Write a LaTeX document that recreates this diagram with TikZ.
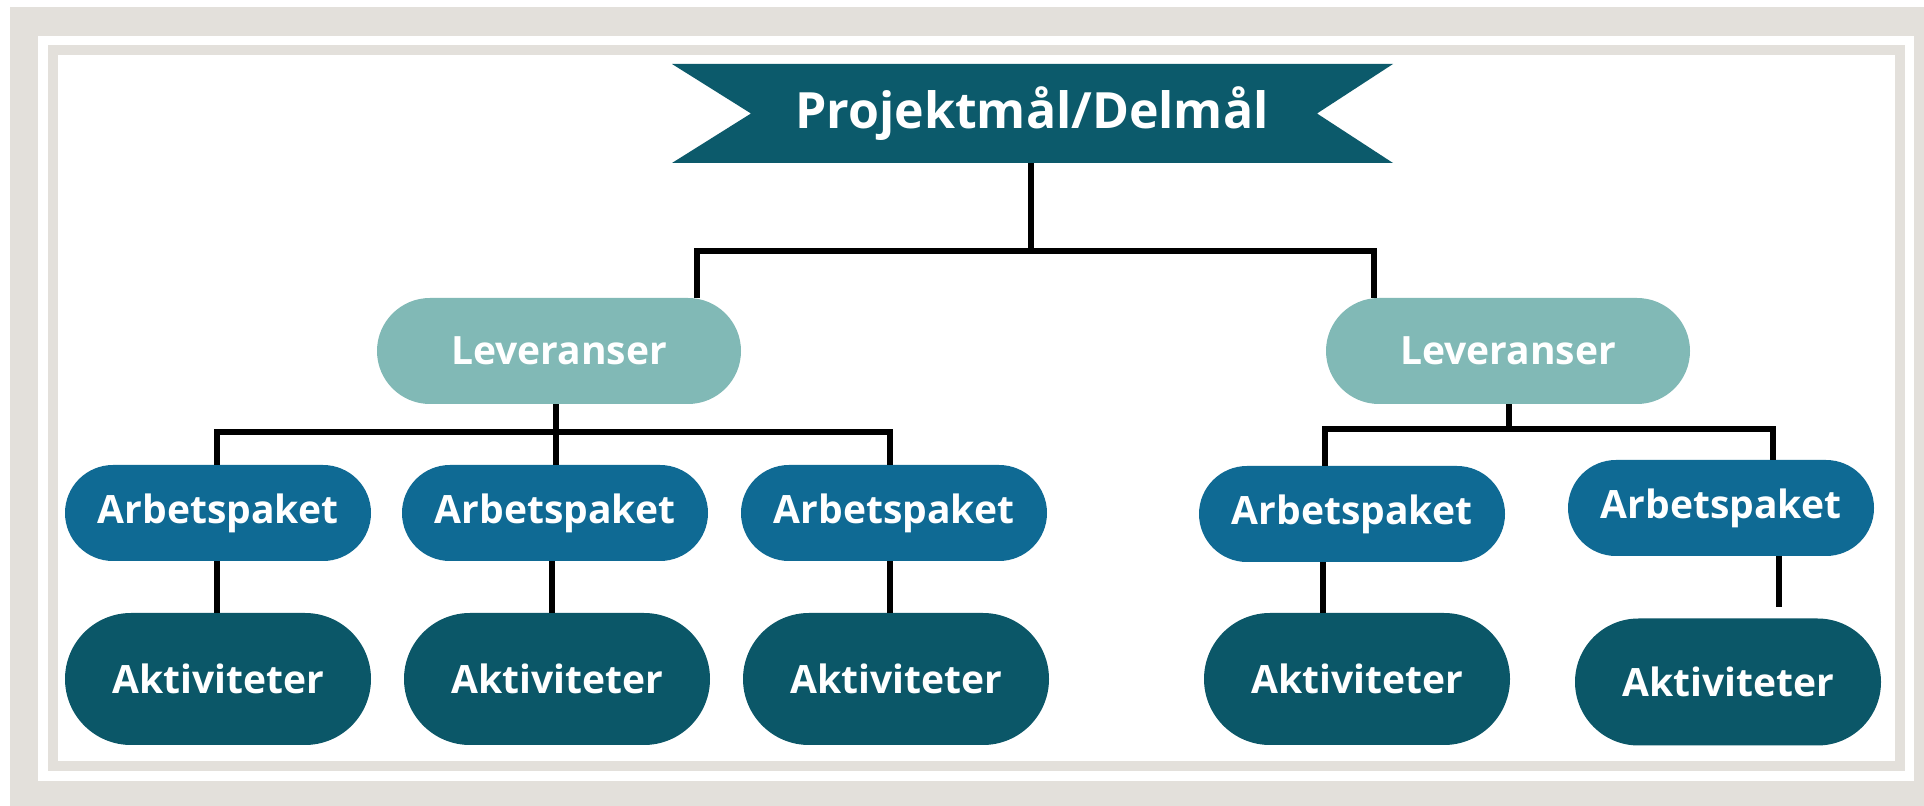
\documentclass[tikz,border=0pt]{standalone}
\usepackage{fontspec}
\setmainfont{Open Sans}
\definecolor{bnr}{HTML}{0C5A6B}
\definecolor{levc}{HTML}{81B9B6}
\definecolor{arbc}{HTML}{0F6A94}
\definecolor{aktc}{HTML}{0B5768}
\definecolor{framec}{HTML}{E3E0DB}
\tikzset{
  box/.style={text=white, inner sep=0pt, font=\bfseries\fontsize{19.5}{22}\selectfont},
  levbox/.style={box, fill=levc, minimum width=182pt, minimum height=53pt, rounded corners=26.5pt},
  arbbox/.style={box, fill=arbc, minimum width=153pt, minimum height=48pt, rounded corners=24pt},
  aktbox/.style={box, fill=aktc, minimum width=153pt, minimum height=66pt, rounded corners=33pt},
  conn/.style={draw=black, line width=2.6pt},
}
\begin{document}
\begin{tikzpicture}[x=0.5pt,y=-0.5pt]
\useasboundingbox (0,0) rectangle (1924,806);
% frame
\fill[white] (0,0) rectangle (1924,806);
\fill[framec] (10,7) rectangle (1924,806);
\fill[white] (38,36) rectangle (1914,781);
\fill[framec] (48,45) rectangle (1905,771);
\fill[white] (58,55) rectangle (1895,761);
% banner
\fill[bnr] (672,64) -- (1393,64) -- (1317,113.5) -- (1393,163) -- (672,163) -- (751,113.5) -- cycle;
\node[box, font=\bfseries\fontsize{25}{28}\selectfont, minimum width=360pt, minimum height=49.5pt] (goal) at (1032,113.5) {Projektmål/Delmål};
% level 2
\node[levbox] (levL) at (559,351) {Leveranser};
\node[levbox] (levR) at (1508,351) {Leveranser};
% level 3
\node[arbbox] (a1) at (218,513) {Arbetspaket};
\node[arbbox] (a2) at (555,513) {Arbetspaket};
\node[arbbox] (a3) at (894,513) {Arbetspaket};
\node[arbbox] (a4) at (1352,514) {Arbetspaket};
\node[arbbox] (a5) at (1721,508) {Arbetspaket};
% level 4
\node[aktbox] (k1) at (218,679) {Aktiviteter};
\node[aktbox] (k2) at (557,679) {Aktiviteter};
\node[aktbox] (k3) at (896,679) {Aktiviteter};
\node[aktbox] (k4) at (1357,679) {Aktiviteter};
\node[aktbox, minimum height=63.5pt, rounded corners=31.75pt] (k5) at (1728,682) {Aktiviteter};
% junctions
\coordinate (j0) at (1031,251);
\coordinate (jL) at (697,251);
\coordinate (jR) at (1374,251);
\coordinate (t1) at (217,432);
\coordinate (t2) at (556,432);
\coordinate (t3) at (890,432);
\coordinate (u1) at (1325,429);
\coordinate (u2) at (1509,429);
\coordinate (u3) at (1773,429);
\coordinate (s1) at (217,0);
\coordinate (s2) at (552,0);
\coordinate (s3) at (890,0);
\coordinate (s4) at (1323,0);
\coordinate (e5) at (1779,607);
% connectors
\draw[conn] (goal.south -| j0) -- (j0);
\draw[conn] (levL.north -| jL) -- (jL) -- (jR) -- (levR.north -| jR);
\draw[conn] (levL.south -| t2) -- (t2);
\draw[conn] (a1.north -| t1) -- (t1) -- (t3) -- (a3.north -| t3);
\draw[conn] (t2) -- (a2.north -| t2);
\draw[conn] (levR.south -| u2) -- (u2);
\draw[conn] (a4.north -| u1) -- (u1) -- (u3) -- (a5.north -| u3);
\draw[conn] (a1.south -| s1) -- (k1.north -| s1);
\draw[conn] (a2.south -| s2) -- (k2.north -| s2);
\draw[conn] (a3.south -| s3) -- (k3.north -| s3);
\draw[conn] (a4.south -| s4) -- (k4.north -| s4);
\draw[conn] (a5.south -| e5) -- (e5);
\end{tikzpicture}
\end{document}
